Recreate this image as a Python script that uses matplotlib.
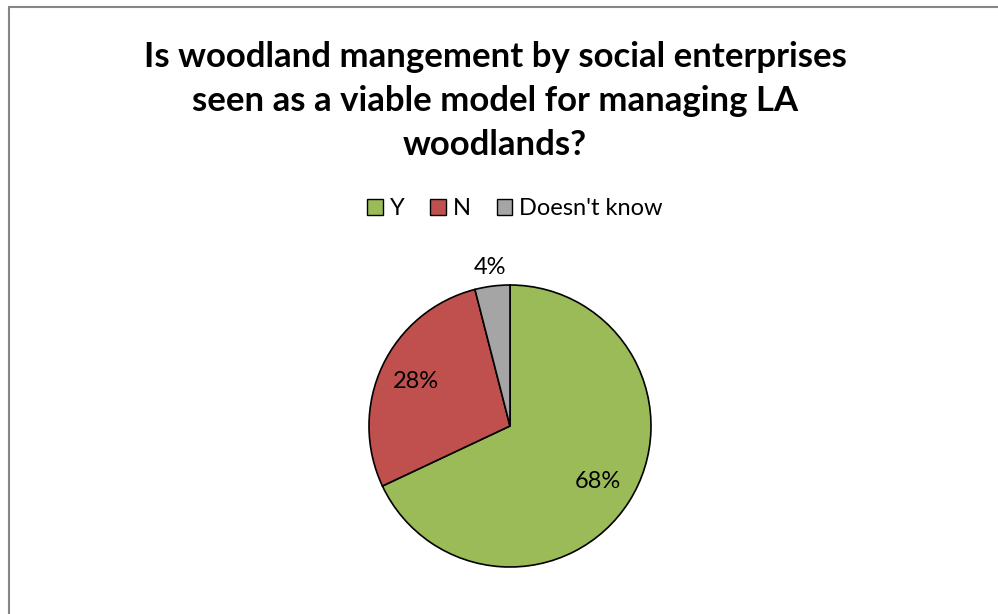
import matplotlib
matplotlib.use("Agg")
import matplotlib.pyplot as plt
from matplotlib.patches import Rectangle
import numpy as np

title = "Is woodland mangement by social enterprises\nseen as a viable model for managing LA\nwoodlands?"
categories = ["Y", "N", "Doesn't know"]
values = [68, 28, 4]
colors = ["#9BBB59", "#C0504D", "#A5A5A5"]

plt.rcParams["font.family"] = ["Lato", "DejaVu Sans"]

W, H = 998, 614
fig = plt.figure(figsize=(W / 100, H / 100), dpi=100)

# chart area frame
fig.add_artist(Rectangle((8.5 / W, -0.1), 1.2, 1 - 6.5 / H + 0.1, transform=fig.transFigure,
                         fill=False, edgecolor="#868686", linewidth=1.5))

fig.text(495 / W, 1 - 101 / H, title, ha="center", va="center", fontsize=25,
         fontweight="bold", linespacing=1.45, color="black")

# pie
cx, cy, r = 510, 426, 141
ax = fig.add_axes([(cx - r) / W, (H - cy - r) / H, 2 * r / W, 2 * r / H])
wedges, texts, autotexts = ax.pie(values, colors=colors, startangle=90, counterclock=False,
                                  autopct=lambda p: f"{p:.0f}%", pctdistance=0.74,
                                  wedgeprops=dict(edgecolor="black", linewidth=1.2),
                                  textprops=dict(fontsize=17, color="black"))
# small slice label sits outside the pie
w = wedges[2]
ang = np.deg2rad((w.theta1 + w.theta2) / 2)
autotexts[2].set_position((1.13 * np.cos(ang), 1.13 * np.sin(ang)))
ax.set_xlim(-1, 1)
ax.set_ylim(-1, 1)
ax.set_aspect("equal")

# legend across the top
leg = fig.legend(wedges, categories, loc="center", bbox_to_anchor=(515 / W, 1 - 209 / H),
                 ncol=3, frameon=False, fontsize=17, handlelength=0.65, handleheight=0.65,
                 handletextpad=0.3, columnspacing=1.1, borderaxespad=0)
for h in leg.legend_handles:
    h.set_linewidth(1.0)

fig.savefig("out.png", dpi=100)
